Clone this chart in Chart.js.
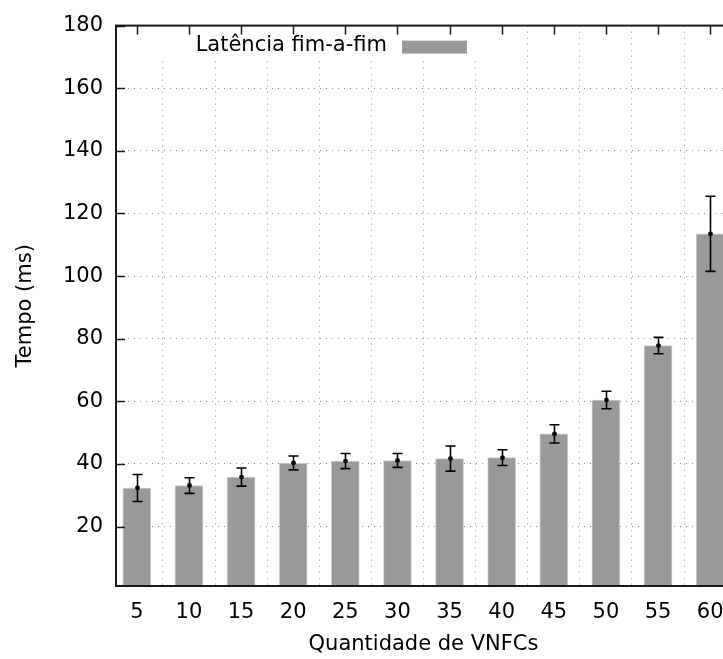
<!DOCTYPE html>
<html lang="pt">
<head>
  <meta charset="UTF-8">
  <title>Latência fim-a-fim</title>
  <script src="https://cdn.jsdelivr.net/npm/chart.js"></script>
  <style>
    html, body { margin: 0; padding: 0; background: #fff; overflow: hidden; }
    #caixa { position: relative; width: 745px; height: 659px; }
  </style>
</head>
<body>

<div id="caixa"><canvas id="graficoLatencia"></canvas></div>

<script>
  // dados: latência média por quantidade de VNFCs (ms) e desvio
  const categorias = ["5", "10", "15", "20", "25", "30", "35", "40", "45", "50", "55", "60"];
  const latenciaMedia = [32.3, 33.1, 35.8, 40.3, 40.9, 41.1, 41.7, 42.0, 49.6, 60.4, 77.8, 113.5];
  const latenciaErro = [4.3, 2.5, 2.9, 2.2, 2.4, 2.2, 4.0, 2.5, 2.9, 2.8, 2.6, 12.0];
  const ticksY = [20, 40, 60, 80, 100, 120, 140, 160, 180];

  const fonte = { family: "'DejaVu Sans', sans-serif", size: 21, lineHeight: 1.2 };
  const corBarra = "#999999";
  const corEixo = "#1a1a1a";
  const corGrade = "#8c8c8c";

  // fundo branco da legenda (cobre a grade) e marcas inferiores, antes das barras
  const fundoLegenda = {
    id: "fundoLegenda",
    beforeDatasetsDraw(chart) {
      const { ctx, chartArea: a, scales: { x } } = chart;
      ctx.save();
      ctx.fillStyle = "#fff";
      ctx.fillRect(a.left + 1, a.top + 1, 364, 34);
      ctx.strokeStyle = corEixo;
      ctx.lineWidth = 1.5;
      categorias.forEach((c, i) => {
        const px = Math.round(x.getPixelForValue(i)) + 0.5;
        ctx.beginPath();
        ctx.moveTo(px, a.bottom);
        ctx.lineTo(px, a.bottom - 9);
        ctx.stroke();
      });
      ctx.restore();
    }
  };

  // barras de erro, moldura, marcas internas e legenda
  const extras = {
    id: "extras",
    afterDatasetsDraw(chart) {
      const { ctx, chartArea: a, scales: { x, y } } = chart;
      ctx.save();

      ctx.strokeStyle = "#000";
      ctx.fillStyle = "#000";
      ctx.lineWidth = 1.6;
      latenciaMedia.forEach((m, i) => {
        const px = Math.round(x.getPixelForValue(i)) + 0.5;
        const yTopo = y.getPixelForValue(m + latenciaErro[i]);
        const yBase = y.getPixelForValue(m - latenciaErro[i]);
        ctx.beginPath();
        ctx.moveTo(px, yTopo); ctx.lineTo(px, yBase);
        ctx.moveTo(px - 5, yTopo); ctx.lineTo(px + 5, yTopo);
        ctx.moveTo(px - 5, yBase); ctx.lineTo(px + 5, yBase);
        ctx.stroke();
        ctx.beginPath();
        ctx.arc(px, y.getPixelForValue(m), 2.4, 0, Math.PI * 2);
        ctx.fill();
      });

      ctx.strokeStyle = corEixo;
      ctx.lineWidth = 1.5;
      categorias.forEach((c, i) => {
        const px = Math.round(x.getPixelForValue(i)) + 0.5;
        ctx.beginPath();
        ctx.moveTo(px, a.top);
        ctx.lineTo(px, a.top + 9);
        ctx.stroke();
      });
      ticksY.forEach(v => {
        const py = Math.round(y.getPixelForValue(v)) + 0.5;
        ctx.beginPath();
        ctx.moveTo(a.left, py);
        ctx.lineTo(a.left + 9, py);
        ctx.stroke();
      });

      ctx.lineWidth = 2;
      ctx.strokeRect(a.left, a.top, a.right - a.left, a.bottom - a.top);

      const ds = chart.data.datasets[0];
      ctx.font = "21px 'DejaVu Sans', sans-serif";
      ctx.fillStyle = "#000";
      ctx.textAlign = "right";
      ctx.textBaseline = "middle";
      ctx.fillText(ds.label, a.left + 271, a.top + 20);
      ctx.fillStyle = ds.backgroundColor;
      ctx.fillRect(a.left + 286, a.top + 15, 65, 13);

      ctx.restore();
    }
  };

  new Chart(document.getElementById("graficoLatencia"), {
    type: "bar",
    data: {
      datasets: [{
        label: "Latência fim-a-fim",
        data: latenciaMedia.map((v, i) => ({ x: i, y: v })),
        backgroundColor: corBarra,
        borderColor: "#cfcfcf",
        borderWidth: 1,
        barThickness: 28
      }]
    },
    options: {
      responsive: true,
      maintainAspectRatio: false,
      animation: false,
      layout: { padding: { top: 21, right: 14, bottom: 0, left: 0 } },
      plugins: {
        legend: { display: false },
        tooltip: { enabled: false }
      },
      scales: {
        x: {
          type: "linear",
          offset: false,
          min: -0.4,
          max: 11.4,
          afterBuildTicks: s => { s.ticks = categorias.map((c, i) => ({ value: i })); },
          afterFit: s => { s.height = 73; },
          ticks: {
            callback: v => categorias[v],
            font: fonte,
            color: "#000",
            padding: 14,
            maxRotation: 0
          },
          grid: { color: corGrade, lineWidth: 1, drawTicks: false },
          border: { display: false, dash: [1, 5] },
          title: {
            display: true,
            text: "Quantidade de VNFCs",
            font: fonte,
            color: "#000",
            padding: { top: 0, bottom: 2 }
          }
        },
        y: {
          min: 1,
          max: 180,
          afterBuildTicks: s => { s.ticks = ticksY.map(v => ({ value: v })); },
          afterFit: s => { s.width = 116; },
          ticks: { font: fonte, color: "#000", padding: 13 },
          grid: { color: corGrade, lineWidth: 1, drawTicks: false },
          border: { display: false, dash: [1, 5] },
          title: {
            display: true,
            text: "Tempo (ms)",
            font: fonte,
            color: "#000",
            padding: { top: 13, bottom: 0 }
          }
        }
      }
    },
    plugins: [fundoLegenda, extras]
  });
</script>

</body>
</html>
